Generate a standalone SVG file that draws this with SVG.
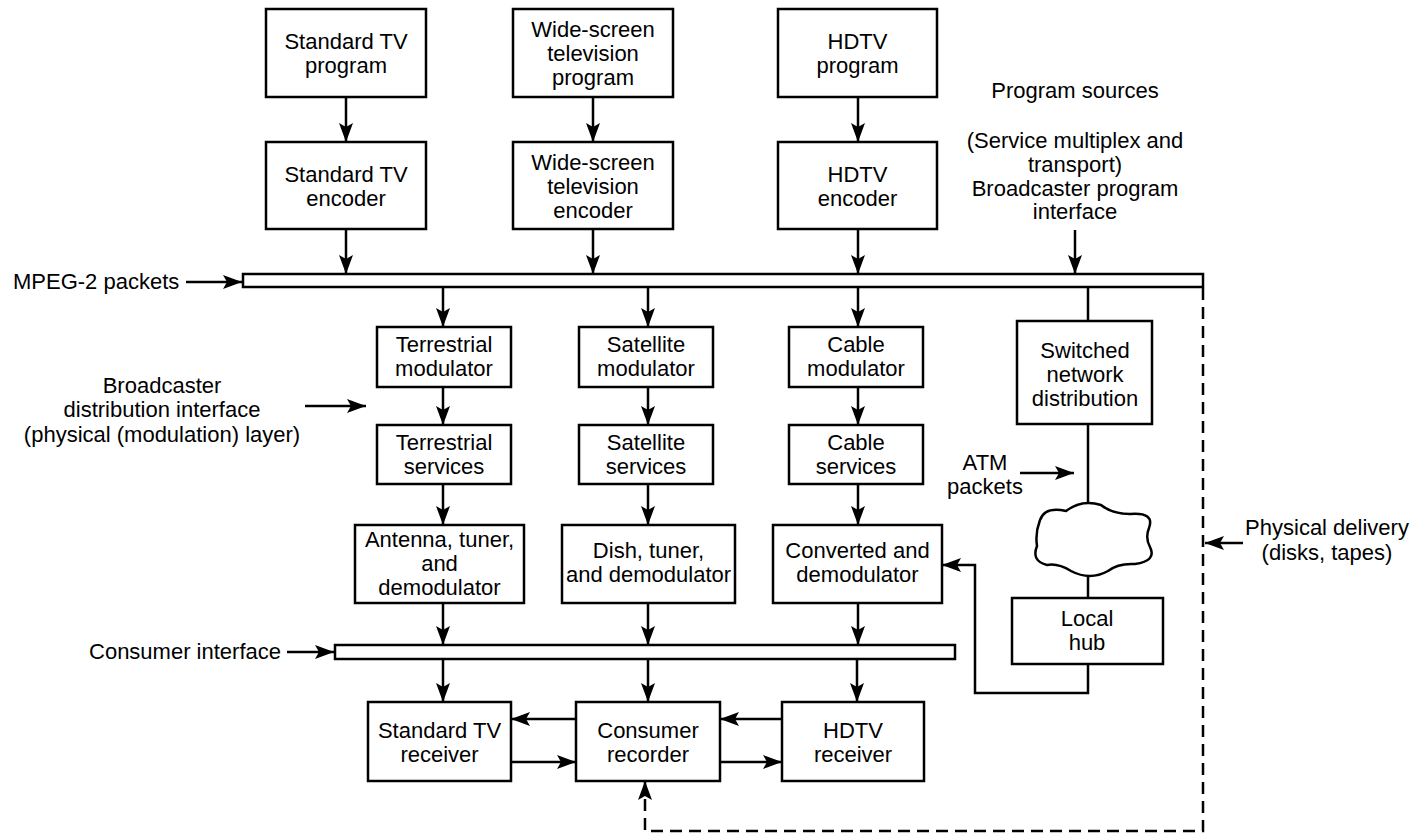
<svg xmlns="http://www.w3.org/2000/svg" width="1423" height="835" viewBox="0 0 1423 835">
  <defs>
    <style>
      .box { fill: #fff; stroke: #000; stroke-width: 2.5; }
      .bar { fill: #fff; stroke: #000; stroke-width: 2.5; }
      .lbl { font-family: "Liberation Sans", Arial, Helvetica, sans-serif; font-size: 22px; fill: #000; text-anchor: middle; }
      .left { text-anchor: start; }
      .right { text-anchor: end; }
      .wire { fill: none; stroke: #000; stroke-width: 2.5; }
      .arr { fill: none; stroke: #000; stroke-width: 2.5; marker-end: url(#head); }
      .dash { fill: none; stroke: #000; stroke-width: 2.5; stroke-dasharray: 12 7; marker-end: url(#head); }
    </style>
    <marker id="head" markerUnits="userSpaceOnUse" markerWidth="19" markerHeight="14" refX="19" refY="7" orient="auto">
      <path d="M0,0 L19,7 L0,14 L4,7 Z" fill="#000"/>
    </marker>
  </defs>

  <rect width="1423" height="835" fill="#fff"/>

  <!-- Connectors -->
  <g id="connectors">
    <!-- program sources to encoders -->
    <line class="arr" x1="346" y1="97" x2="346" y2="142"/>
    <line class="arr" x1="593" y1="97" x2="593" y2="142"/>
    <line class="arr" x1="858" y1="97" x2="858" y2="142"/>
    <!-- encoders to transport bus -->
    <line class="arr" x1="346" y1="229" x2="346" y2="274"/>
    <line class="arr" x1="593" y1="229" x2="593" y2="274"/>
    <line class="arr" x1="858" y1="229" x2="858" y2="274"/>
    <line class="arr" x1="1075" y1="230" x2="1075" y2="274"/>
    <!-- bus to modulators -->
    <line class="arr" x1="443" y1="287" x2="443" y2="327"/>
    <line class="arr" x1="648" y1="287" x2="648" y2="327"/>
    <line class="arr" x1="858" y1="287" x2="858" y2="327"/>
    <line class="wire" x1="1088" y1="287" x2="1088" y2="321"/>
    <!-- modulators to services -->
    <line class="arr" x1="443" y1="387" x2="443" y2="425"/>
    <line class="arr" x1="648" y1="387" x2="648" y2="425"/>
    <line class="arr" x1="858" y1="387" x2="858" y2="425"/>
    <!-- services to receivers/demodulators -->
    <line class="arr" x1="443" y1="484" x2="443" y2="525"/>
    <line class="arr" x1="648" y1="484" x2="648" y2="525"/>
    <line class="arr" x1="858" y1="484" x2="858" y2="525"/>
    <!-- demodulators to consumer bus -->
    <line class="arr" x1="443" y1="603" x2="443" y2="645"/>
    <line class="arr" x1="648" y1="603" x2="648" y2="645"/>
    <line class="arr" x1="858" y1="603" x2="858" y2="645"/>
    <!-- consumer bus to devices -->
    <line class="arr" x1="443" y1="659" x2="443" y2="702"/>
    <line class="arr" x1="648" y1="659" x2="648" y2="702"/>
    <line class="arr" x1="857" y1="659" x2="857" y2="702"/>
    <!-- recorder links -->
    <line class="arr" x1="576" y1="719" x2="511" y2="719"/>
    <line class="arr" x1="511" y1="762" x2="576" y2="762"/>
    <line class="arr" x1="782" y1="719" x2="720" y2="719"/>
    <line class="arr" x1="720" y1="762" x2="782" y2="762"/>
    <!-- switched network chain -->
    <line class="wire" x1="1088" y1="424" x2="1088" y2="506"/>
    <line class="wire" x1="1088" y1="573" x2="1088" y2="598"/>
    <path class="arr" d="M1088,664 V693 H975 V565 H942"/>
    <!-- physical delivery path -->
    <path class="dash" d="M1203,288 V831 H645 V781"/>
    <!-- label pointers -->
    <line class="arr" x1="186" y1="282" x2="242" y2="282"/>
    <line class="arr" x1="305" y1="406" x2="366" y2="406"/>
    <line class="arr" x1="1020" y1="473" x2="1074" y2="473"/>
    <line class="arr" x1="287" y1="652" x2="334" y2="652"/>
    <line class="arr" x1="1243" y1="543" x2="1205" y2="543"/>
  </g>

  <!-- Buses -->
  <g id="mpeg-bus"><rect class="bar" x="243" y="274" width="960" height="13"/></g>
  <g id="consumer-bus"><rect class="bar" x="335" y="645" width="620" height="14"/></g>

  <!-- Program sources -->
  <g id="std-program">
    <rect class="box" x="266" y="9" width="160" height="88"/>
    <text class="lbl" x="346" y="49">Standard TV</text>
    <text class="lbl" x="346" y="73">program</text>
  </g>
  <g id="wide-program">
    <rect class="box" x="513" y="9" width="160" height="88"/>
    <text class="lbl" x="593" y="37">Wide-screen</text>
    <text class="lbl" x="593" y="61">television</text>
    <text class="lbl" x="593" y="85">program</text>
  </g>
  <g id="hdtv-program">
    <rect class="box" x="778" y="9" width="159" height="88"/>
    <text class="lbl" x="857.5" y="49">HDTV</text>
    <text class="lbl" x="857.5" y="73">program</text>
  </g>

  <!-- Encoders -->
  <g id="std-encoder">
    <rect class="box" x="266" y="142" width="160" height="87"/>
    <text class="lbl" x="346" y="182">Standard TV</text>
    <text class="lbl" x="346" y="206">encoder</text>
  </g>
  <g id="wide-encoder">
    <rect class="box" x="513" y="142" width="160" height="87"/>
    <text class="lbl" x="593" y="170">Wide-screen</text>
    <text class="lbl" x="593" y="194">television</text>
    <text class="lbl" x="593" y="218">encoder</text>
  </g>
  <g id="hdtv-encoder">
    <rect class="box" x="778" y="142" width="159" height="87"/>
    <text class="lbl" x="857.5" y="182">HDTV</text>
    <text class="lbl" x="857.5" y="206">encoder</text>
  </g>

  <!-- Modulators -->
  <g id="terr-mod">
    <rect class="box" x="377" y="327" width="134" height="60"/>
    <text class="lbl" x="444" y="352">Terrestrial</text>
    <text class="lbl" x="444" y="376">modulator</text>
  </g>
  <g id="sat-mod">
    <rect class="box" x="579" y="327" width="134" height="60"/>
    <text class="lbl" x="646" y="352">Satellite</text>
    <text class="lbl" x="646" y="376">modulator</text>
  </g>
  <g id="cable-mod">
    <rect class="box" x="789" y="327" width="134" height="60"/>
    <text class="lbl" x="856" y="352">Cable</text>
    <text class="lbl" x="856" y="376">modulator</text>
  </g>
  <g id="switched-net">
    <rect class="box" x="1017" y="321" width="135" height="103"/>
    <text class="lbl" x="1085" y="358">Switched</text>
    <text class="lbl" x="1085" y="382">network</text>
    <text class="lbl" x="1085" y="406">distribution</text>
  </g>

  <!-- Services -->
  <g id="terr-svc">
    <rect class="box" x="377" y="425" width="134" height="59"/>
    <text class="lbl" x="444" y="450">Terrestrial</text>
    <text class="lbl" x="444" y="474">services</text>
  </g>
  <g id="sat-svc">
    <rect class="box" x="579" y="425" width="134" height="59"/>
    <text class="lbl" x="646" y="450">Satellite</text>
    <text class="lbl" x="646" y="474">services</text>
  </g>
  <g id="cable-svc">
    <rect class="box" x="789" y="425" width="134" height="59"/>
    <text class="lbl" x="856" y="450">Cable</text>
    <text class="lbl" x="856" y="474">services</text>
  </g>

  <!-- Reception front ends -->
  <g id="antenna">
    <rect class="box" x="355" y="525" width="169" height="78"/>
    <text class="lbl" x="439.5" y="547">Antenna, tuner,</text>
    <text class="lbl" x="439.5" y="571">and</text>
    <text class="lbl" x="439.5" y="595">demodulator</text>
  </g>
  <g id="dish">
    <rect class="box" x="562" y="525" width="173" height="78"/>
    <text class="lbl" x="648.5" y="558">Dish, tuner,</text>
    <text class="lbl" x="648.5" y="582">and demodulator</text>
  </g>
  <g id="converter">
    <rect class="box" x="773" y="525" width="169" height="78"/>
    <text class="lbl" x="857.5" y="558">Converted and</text>
    <text class="lbl" x="857.5" y="582">demodulator</text>
  </g>

  <!-- Network cloud and hub -->
  <g id="network-cloud">
    <path d="M1040,520 Q1045,506 1066,511 Q1082,499 1101,505 Q1112,514 1130,514 Q1155,512 1149,528 Q1145,538 1150,547 Q1157,561 1135,564 Q1118,563 1108,571 Q1090,581 1071,571 Q1058,563 1047,565 Q1031,561 1037,546 Q1035,533 1040,520 Z" fill="#fff" stroke="#000" stroke-width="2.5"/>
  </g>
  <g id="local-hub">
    <rect class="box" x="1012" y="598" width="151" height="66"/>
    <text class="lbl" x="1087" y="626">Local</text>
    <text class="lbl" x="1087" y="650">hub</text>
  </g>

  <!-- Consumer devices -->
  <g id="std-receiver">
    <rect class="box" x="368" y="702" width="143" height="79"/>
    <text class="lbl" x="439.5" y="738">Standard TV</text>
    <text class="lbl" x="439.5" y="762">receiver</text>
  </g>
  <g id="recorder">
    <rect class="box" x="576" y="702" width="144" height="79"/>
    <text class="lbl" x="648" y="738">Consumer</text>
    <text class="lbl" x="648" y="762">recorder</text>
  </g>
  <g id="hdtv-receiver">
    <rect class="box" x="782" y="702" width="142" height="79"/>
    <text class="lbl" x="853" y="738">HDTV</text>
    <text class="lbl" x="853" y="762">receiver</text>
  </g>

  <!-- Interface labels -->
  <g id="labels">
    <text class="lbl" x="1075" y="98">Program sources</text>
    <text class="lbl" x="1075" y="148">(Service multiplex and</text>
    <text class="lbl" x="1075" y="172">transport)</text>
    <text class="lbl" x="1075" y="196">Broadcaster program</text>
    <text class="lbl" x="1075" y="219">interface</text>
    <text class="lbl left" x="13" y="289">MPEG-2 packets</text>
    <text class="lbl" x="162" y="393">Broadcaster</text>
    <text class="lbl" x="162" y="417">distribution interface</text>
    <text class="lbl" x="162" y="442">(physical (modulation) layer)</text>
    <text class="lbl" x="985" y="470">ATM</text>
    <text class="lbl" x="985" y="494">packets</text>
    <text class="lbl right" x="281" y="659">Consumer interface</text>
    <text class="lbl" x="1327" y="535">Physical delivery</text>
    <text class="lbl" x="1327" y="560">(disks, tapes)</text>
  </g>
</svg>
